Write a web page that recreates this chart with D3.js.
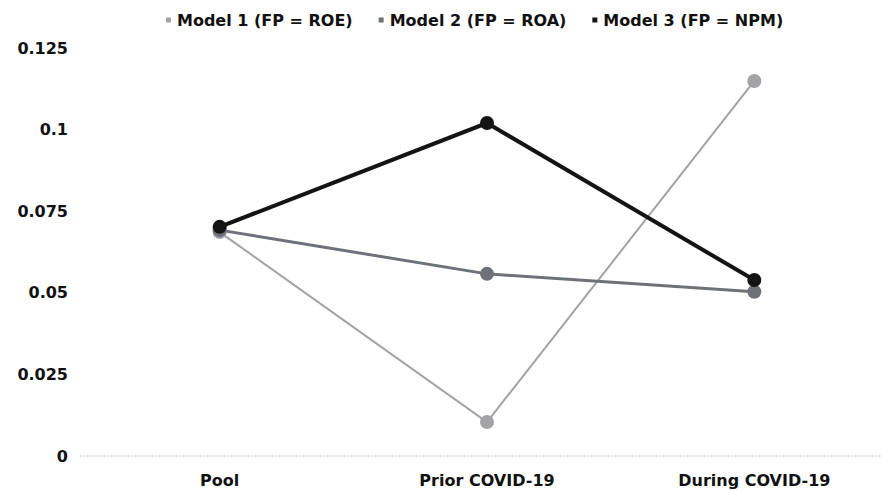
<!DOCTYPE html>
<html><head><meta charset="utf-8">
<script src="https://cdn.jsdelivr.net/npm/d3@7"></script>
<style>body{margin:0;background:#fff;} text{font-family:"DejaVu Sans",sans-serif;}</style>
</head><body><svg id="c" width="882" height="492"></svg>
<script>
const categories = ["Pool", "Prior COVID-19", "During COVID-19"];
const seriesNames = ["Model 1 (FP = ROE)", "Model 2 (FP = ROA)", "Model 3 (FP = NPM)"];
const model1 = [0.0686, 0.0104, 0.1149];
const model2 = [0.0692, 0.0558, 0.0503];
const model3 = [0.0702, 0.1020, 0.0539];
const yTicks = [0, 0.025, 0.05, 0.075, 0.1, 0.125];
const yTickLabels = ["0", "0.025", "0.05", "0.075", "0.1", "0.125"];

const colors = ["#a3a3a5", "#6e7176", "#141414"];
const widths = [2, 3, 4];
const series = [model1, model2, model3];

const svg = d3.select("#c");
const x = d3.scaleBand().domain(categories).range([86, 888]);
const y = d3.scaleLinear().domain([0, 0.125]).range([456, 48]);

// baseline
svg.append("line").attr("x1", 80).attr("x2", 882).attr("y1", y(0)).attr("y2", y(0))
  .attr("stroke", "#c4c4c4").attr("stroke-width", 1).attr("stroke-dasharray", "2,1");

// y axis
const yAxis = d3.axisLeft(y).tickValues(yTicks).tickFormat((d, i) => yTickLabels[i]).tickSize(0).tickPadding(0);
const gy = svg.append("g").attr("transform", "translate(68,0)").call(yAxis);
gy.select(".domain").remove();
gy.selectAll("text").attr("font-size", 16).attr("font-weight", "bold").attr("fill", "#111")
  .attr("font-family", "DejaVu Sans");

// x axis
const xAxis = d3.axisBottom(x).tickSize(0).tickPadding(0);
const gx = svg.append("g").attr("transform", "translate(0,480)").call(xAxis);
gx.select(".domain").remove();
gx.selectAll("text").attr("font-size", 16).attr("font-weight", "bold").attr("fill", "#111")
  .attr("font-family", "DejaVu Sans").attr("dy", "0.35em");

const cx = d => x(d) + x.bandwidth() / 2;
const line = d3.line().x((d, i) => cx(categories[i])).y(d => y(d));

series.forEach((s, k) => {
  svg.append("path").datum(s).attr("d", line).attr("fill", "none")
    .attr("stroke", colors[k]).attr("stroke-width", widths[k]);
});
series.forEach((s, k) => {
  svg.selectAll(null).data(s).enter().append("circle")
    .attr("cx", (d, i) => cx(categories[i])).attr("cy", d => y(d))
    .attr("r", 7).attr("fill", colors[k]);
});

// legend (laid out by measured text width)
const lg = svg.append("g").attr("transform", "translate(0,20)");
let lx = 166;
seriesNames.forEach((n, k) => {
  lg.append("rect").attr("x", lx).attr("y", -2.5).attr("width", 5).attr("height", 5).attr("fill", colors[k]);
  const t = lg.append("text").attr("x", lx + 11).attr("y", 0).attr("dy", "0.35em")
    .attr("font-size", 16).attr("font-weight", "bold").attr("fill", "#111").text(n);
  lx += 11 + t.node().getComputedTextLength() + 26;
});
</script></body></html>
